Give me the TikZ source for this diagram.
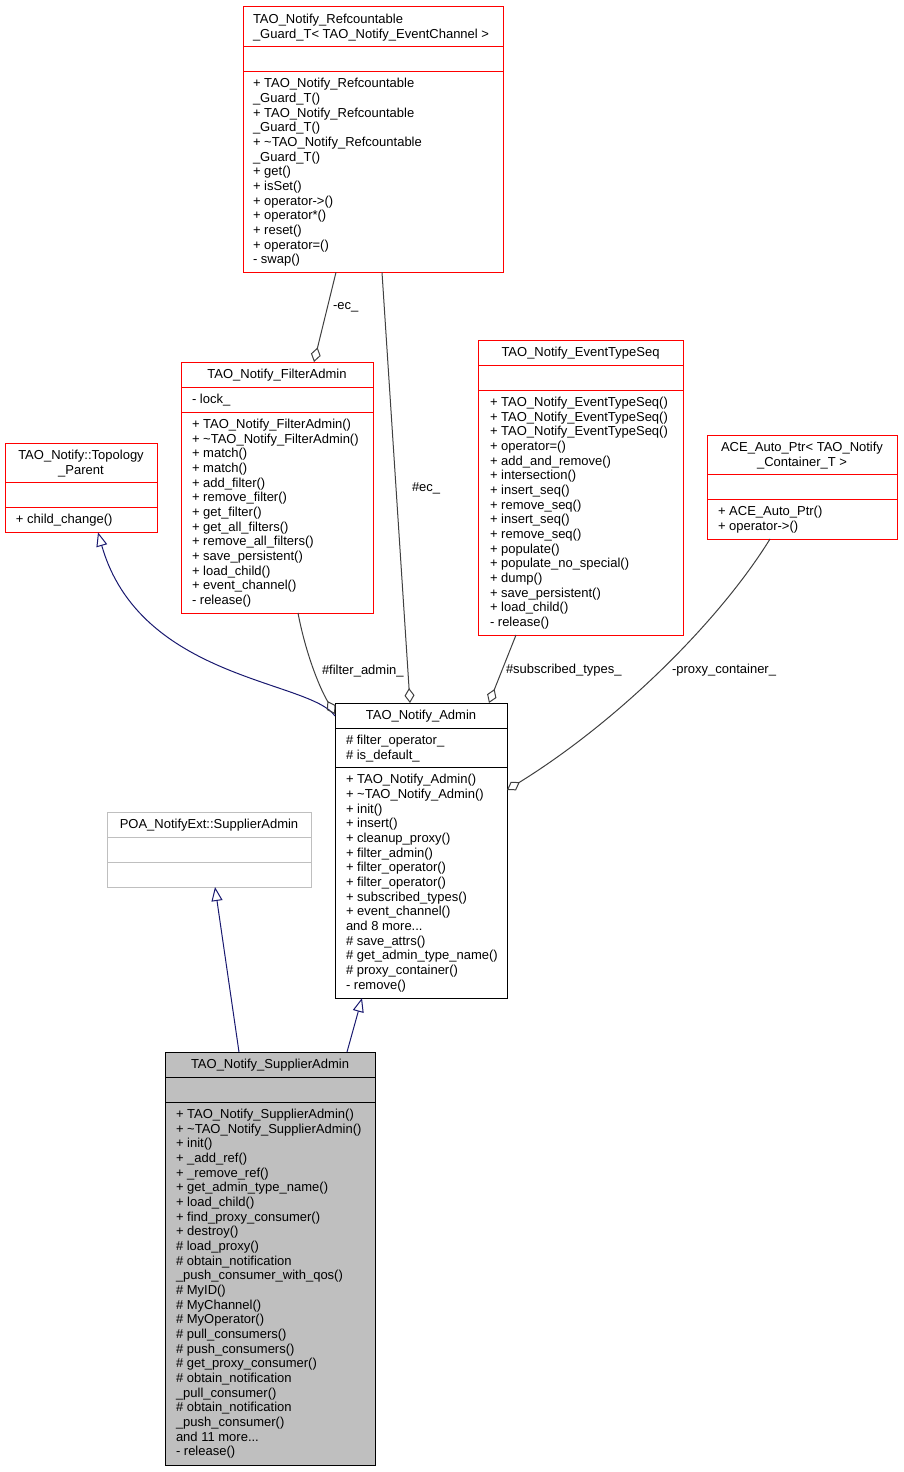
\documentclass[tikz,border=0pt]{standalone}
\usepackage{fontspec}
\setmainfont{Liberation Sans}
\usetikzlibrary{arrows.meta,calc}
\definecolor{edgeblue}{HTML}{191970}
\definecolor{edgegray}{HTML}{404040}
\definecolor{boxred}{HTML}{FF0000}
\definecolor{lightgr}{HTML}{BFBFBF}
\newcommand\clsfont{\fontsize{13}{14.67}\selectfont}
\begin{document}
\begin{tikzpicture}[x=1pt,y=-1pt,
  clsbox/.style={draw, line width=1pt, fill=white, inner sep=0pt, outer sep=0pt, anchor=north west},
  redbox/.style={clsbox, draw=boxred},
  sepline/.style={line width=1pt},
  txtl/.style={inner sep=0pt, outer sep=0pt, anchor=north west, align=left, font=\clsfont},
  txtc/.style={inner sep=0pt, outer sep=0pt, anchor=north, align=center, font=\clsfont},
  lbl/.style={inner sep=0pt, outer sep=0pt, anchor=base west, font=\clsfont},
  inh/.style={draw=edgeblue, line width=1pt, -{Triangle[open, length=14pt, width=11pt]}},
  agg/.style={draw=edgegray, line width=1pt, -{Diamond[open, length=15pt, width=10pt]}},
]
\fill[white] (0,0) rectangle (903,1472);
\useasboundingbox (0,0) rectangle (903,1472);

% ---- TAO_Notify_Refcountable_Guard_T
\node[redbox, minimum width=260pt, minimum height=265.3pt] (ref) at (243,7) {};
\draw[sepline, boxred] ($(ref.north west)+(0,39.3)$) -- ($(ref.north east)+(0,39.3)$);
\draw[sepline, boxred] ($(ref.north west)+(0,64.3)$) -- ($(ref.north east)+(0,64.3)$);
\node[txtl] (ref-t) at ($(ref.north west)+(10,6.2)$) {\strut TAO\_Notify\_Refcountable\\\_Guard\_T< TAO\_Notify\_EventChannel >};
\node[txtl] (ref-m) at ($(ref.north west)+(10,70.5)$) {\strut + TAO\_Notify\_Refcountable\\
\_Guard\_T()\\
+ TAO\_Notify\_Refcountable\\
\_Guard\_T()\\
+ \textasciitilde TAO\_Notify\_Refcountable\\
\_Guard\_T()\\
+ get()\\
+ isSet()\\
+ operator->()\\
+ operator*()\\
+ reset()\\
+ operator=()\\
- swap()};

% ---- TAO_Notify_FilterAdmin
\node[redbox, minimum width=192pt, minimum height=251pt] (fa) at (181,362) {};
\draw[sepline, boxred] ($(fa.north west)+(0,25)$) -- ($(fa.north east)+(0,25)$);
\draw[sepline, boxred] ($(fa.north west)+(0,50)$) -- ($(fa.north east)+(0,50)$);
\node[txtc] (fa-t) at ($(fa.north)+(0,6.2)$) {\strut TAO\_Notify\_FilterAdmin};
\node[txtl] (fa-a) at ($(fa.north west)+(11,31.2)$) {\strut - lock\_};
\node[txtl] (fa-m) at ($(fa.north west)+(11,56.2)$) {\strut + TAO\_Notify\_FilterAdmin()\\
+ \textasciitilde TAO\_Notify\_FilterAdmin()\\
+ match()\\
+ match()\\
+ add\_filter()\\
+ remove\_filter()\\
+ get\_filter()\\
+ get\_all\_filters()\\
+ remove\_all\_filters()\\
+ save\_persistent()\\
+ load\_child()\\
+ event\_channel()\\
- release()};

% ---- TAO_Notify_EventTypeSeq
\node[redbox, minimum width=205pt, minimum height=295pt] (ets) at (478,340) {};
\draw[sepline, boxred] ($(ets.north west)+(0,25)$) -- ($(ets.north east)+(0,25)$);
\draw[sepline, boxred] ($(ets.north west)+(0,50)$) -- ($(ets.north east)+(0,50)$);
\node[txtc] (ets-t) at ($(ets.north)+(0,6.2)$) {\strut TAO\_Notify\_EventTypeSeq};
\node[txtl] (ets-m) at ($(ets.north west)+(12,56.2)$) {\strut + TAO\_Notify\_EventTypeSeq()\\
+ TAO\_Notify\_EventTypeSeq()\\
+ TAO\_Notify\_EventTypeSeq()\\
+ operator=()\\
+ add\_and\_remove()\\
+ intersection()\\
+ insert\_seq()\\
+ remove\_seq()\\
+ insert\_seq()\\
+ remove\_seq()\\
+ populate()\\
+ populate\_no\_special()\\
+ dump()\\
+ save\_persistent()\\
+ load\_child()\\
- release()};

% ---- TAO_Notify::Topology_Parent
\node[redbox, minimum width=152pt, minimum height=89.3pt] (tp) at (5,443) {};
\draw[sepline, boxred] ($(tp.north west)+(0,39.3)$) -- ($(tp.north east)+(0,39.3)$);
\draw[sepline, boxred] ($(tp.north west)+(0,64.3)$) -- ($(tp.north east)+(0,64.3)$);
\node[txtc] (tp-t) at ($(tp.north)+(0,6.2)$) {\strut TAO\_Notify::Topology\\\_Parent};
\node[txtl] (tp-m) at ($(tp.north west)+(11,70.5)$) {\strut + child\_change()};

% ---- ACE_Auto_Ptr
\node[redbox, minimum width=190pt, minimum height=104pt] (ace) at (707,435) {};
\draw[sepline, boxred] ($(ace.north west)+(0,39.3)$) -- ($(ace.north east)+(0,39.3)$);
\draw[sepline, boxred] ($(ace.north west)+(0,64.3)$) -- ($(ace.north east)+(0,64.3)$);
\node[txtc] (ace-t) at ($(ace.north)+(0,6.2)$) {\strut ACE\_Auto\_Ptr< TAO\_Notify\\\_Container\_T >};
\node[txtl] (ace-m) at ($(ace.north west)+(11,70.5)$) {\strut + ACE\_Auto\_Ptr()\\+ operator->()};

% ---- TAO_Notify_Admin
\node[clsbox, minimum width=172pt, minimum height=295pt] (adm) at (335,703) {};
\draw[sepline] ($(adm.north west)+(0,25)$) -- ($(adm.north east)+(0,25)$);
\draw[sepline] ($(adm.north west)+(0,64.3)$) -- ($(adm.north east)+(0,64.3)$);
\node[txtc] (adm-t) at ($(adm.north)+(0,6.2)$) {\strut TAO\_Notify\_Admin};
\node[txtl] (adm-a) at ($(adm.north west)+(11,31.2)$) {\strut \# filter\_operator\_\\\# is\_default\_};
\node[txtl] (adm-m) at ($(adm.north west)+(11,70.5)$) {\strut + TAO\_Notify\_Admin()\\
+ \textasciitilde TAO\_Notify\_Admin()\\
+ init()\\
+ insert()\\
+ cleanup\_proxy()\\
+ filter\_admin()\\
+ filter\_operator()\\
+ filter\_operator()\\
+ subscribed\_types()\\
+ event\_channel()\\
and 8 more...\\
\# save\_attrs()\\
\# get\_admin\_type\_name()\\
\# proxy\_container()\\
- remove()};

% ---- POA_NotifyExt::SupplierAdmin
\node[clsbox, draw=lightgr, minimum width=204pt, minimum height=75pt] (poa) at (107,812) {};
\draw[sepline, lightgr] ($(poa.north west)+(0,25)$) -- ($(poa.north east)+(0,25)$);
\draw[sepline, lightgr] ($(poa.north west)+(0,50)$) -- ($(poa.north east)+(0,50)$);
\node[txtc] (poa-t) at ($(poa.north)+(0,6.2)$) {\strut POA\_NotifyExt::SupplierAdmin};

% ---- TAO_Notify_SupplierAdmin
\node[clsbox, fill=lightgr, minimum width=210pt, minimum height=413pt] (sa) at (165,1052) {};
\draw[sepline] ($(sa.north west)+(0,25)$) -- ($(sa.north east)+(0,25)$);
\draw[sepline] ($(sa.north west)+(0,50)$) -- ($(sa.north east)+(0,50)$);
\node[txtc] (sa-t) at ($(sa.north)+(0,6.2)$) {\strut TAO\_Notify\_SupplierAdmin};
\node[txtl] (sa-m) at ($(sa.north west)+(11,56.2)$) {\strut + TAO\_Notify\_SupplierAdmin()\\
+ \textasciitilde TAO\_Notify\_SupplierAdmin()\\
+ init()\\
+ \_add\_ref()\\
+ \_remove\_ref()\\
+ get\_admin\_type\_name()\\
+ load\_child()\\
+ find\_proxy\_consumer()\\
+ destroy()\\
\# load\_proxy()\\
\# obtain\_notification\\
\_push\_consumer\_with\_qos()\\
\# MyID()\\
\# MyChannel()\\
\# MyOperator()\\
\# pull\_consumers()\\
\# push\_consumers()\\
\# get\_proxy\_consumer()\\
\# obtain\_notification\\
\_pull\_consumer()\\
\# obtain\_notification\\
\_push\_consumer()\\
and 11 more...\\
- release()};

% ---- connectors
\draw[inh] ($(adm.north west)+(0,13)$) .. controls (310,680) and (140,680) .. ($(tp.south west)+(93,0)$);
\draw[agg] ($(fa.south west)+(117,0)$) .. controls (305,650) and (318,685) .. ($(adm.north west)+(0,11)$);
\draw[agg] ($(ref.south west)+(93,0)$) -- ($(fa.north west)+(133,0)$);
\draw[agg] ($(ref.south west)+(139,0)$) -- ($(adm.north west)+(75,0)$);
\draw[agg] ($(ets.south west)+(38,0)$) -- ($(adm.north west)+(154,0)$);
\draw[agg] ($(ace.south west)+(63,0)$) .. controls (720,620) and (620,720) .. ($(adm.north east)+(0,87)$);
\draw[inh] ($(sa.north west)+(74,0)$) -- ($(poa.south west)+(108,0)$);
\draw[inh] ($(sa.north west)+(182,0)$) -- ($(adm.south west)+(27,0)$);

% ---- labels
\node[lbl] (l-ec1) at (333,309) {-ec\_};
\node[lbl] (l-ec2) at (412,491) {\#ec\_};
\node[lbl] (l-fa) at (322,674) {\#filter\_admin\_};
\node[lbl] (l-st) at (506,673) {\#subscribed\_types\_};
\node[lbl] (l-pc) at (672,673) {-proxy\_container\_};
\end{tikzpicture}
\end{document}
